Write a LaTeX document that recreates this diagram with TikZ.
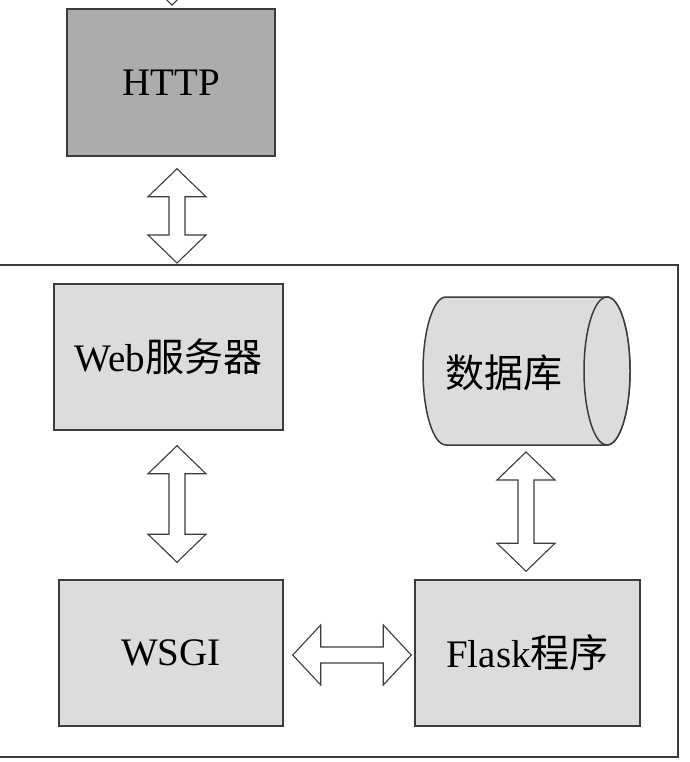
\documentclass[tikz,border=0pt]{standalone}
\usepackage{fontspec}
\setmainfont{Liberation Serif}
\newfontfamily\cjk{Noto Sans CJK SC}
\usetikzlibrary{calc}
\definecolor{edge}{HTML}{3C3C3C}
\definecolor{darkfill}{HTML}{ACACAC}
\definecolor{lightfill}{HTML}{DCDCDC}
\tikzset{
  box/.style={draw=edge, line width=1.5pt, fill=lightfill, inner sep=0pt},
  darkbox/.style={box, fill=darkfill},
  fatarrow/.style={draw=edge, line width=1.1pt, fill=white, line join=miter},
  lbl/.style={font=\fontsize{39}{45}\selectfont},
}
% vertical fat double arrow from #1 (top) to #2 (bottom)
\newcommand\fatv[2]{%
  \path[fatarrow] let \p1=(#1), \p2=(#2) in
    (\x1,\y1) -- ({\x1+29pt},{\y1-28pt}) -- ({\x1+8pt},{\y1-28pt}) --
    ({\x1+8pt},{\y2+28pt}) -- ({\x1+29pt},{\y2+28pt}) -- (\x1,\y2) --
    ({\x1-29pt},{\y2+28pt}) -- ({\x1-8pt},{\y2+28pt}) --
    ({\x1-8pt},{\y1-28pt}) -- ({\x1-29pt},{\y1-28pt}) -- cycle;}
% horizontal fat double arrow from #1 (left) to #2 (right)
\newcommand\fath[2]{%
  \path[fatarrow] let \p1=(#1), \p2=(#2) in
    (\x1,\y1) -- ({\x1+28pt},{\y1+30pt}) -- ({\x1+28pt},{\y1+8pt}) --
    ({\x2-28pt},{\y1+8pt}) -- ({\x2-28pt},{\y1+30pt}) -- (\x2,\y1) --
    ({\x2-28pt},{\y1-30pt}) -- ({\x2-28pt},{\y1-8pt}) --
    ({\x1+28pt},{\y1-8pt}) -- ({\x1+28pt},{\y1-30pt}) -- cycle;}
\begin{document}
\begin{tikzpicture}[x=1pt,y=-1pt]
\useasboundingbox (0,0) rectangle (689,762);
\begin{scope}
\clip (0,0) rectangle (689,762);
% outer frame (left side runs off the picture)
\draw[draw=edge, line width=2.2pt] (-10,265) rectangle (678,757);
% boxes
\node[darkbox, minimum width=208pt, minimum height=147pt] (http) at (171,82.5) {};
\node[lbl] at (http.center) {HTTP};
\node[box, minimum width=229pt, minimum height=146pt] (web) at (168.5,357) {};
\node[lbl] at (web.center) {Web{\cjk 服务器}};
\node[box, minimum width=224pt, minimum height=146pt] (wsgi) at (171,653) {};
\node[lbl] at (wsgi.center) {WSGI};
\node[box, minimum width=225pt, minimum height=146pt] (flask) at (527.5,653) {};
\node[lbl] at (flask.center) {Flask{\cjk 程序}};
% database cylinder (y axis points down: angle -90 is the top)
\draw[draw=edge, line width=1.5pt, fill=lightfill]
  (607,297) arc[start angle=-90, end angle=90, x radius=23, y radius=74]
  -- (446,445) arc[start angle=90, end angle=270, x radius=23, y radius=74] -- cycle;
\draw[draw=edge, line width=1.5pt, fill=lightfill] (607,371) ellipse[x radius=23, y radius=74];
\node[lbl, inner sep=0pt] (db) at (504,373) {\cjk 数据库};
\coordinate (dbbot) at (526,445);
% arrow endpoints
\coordinate (a0t) at (172,-120);
\coordinate (a0b) at (172,5);
\coordinate (a1t) at ($(http.south)+(6,12)$);
\coordinate (a1b) at (177,263);
\coordinate (a2t) at ($(web.south)+(8.5,15)$);
\coordinate (a2b) at ($(wsgi.north)+(6,-17)$);
\coordinate (a3t) at ($(dbbot)+(0,7)$);
\coordinate (a3b) at ($(flask.north)+(-1.5,-8)$);
\coordinate (a4l) at ($(wsgi.east)+(9,2)$);
\coordinate (a4r) at ($(flask.west)+(-3,2)$);
\fatv{a0t}{a0b}
\fatv{a1t}{a1b}
\fatv{a2t}{a2b}
\fatv{a3t}{a3b}
\fath{a4l}{a4r}
\end{scope}
\end{tikzpicture}
\end{document}
